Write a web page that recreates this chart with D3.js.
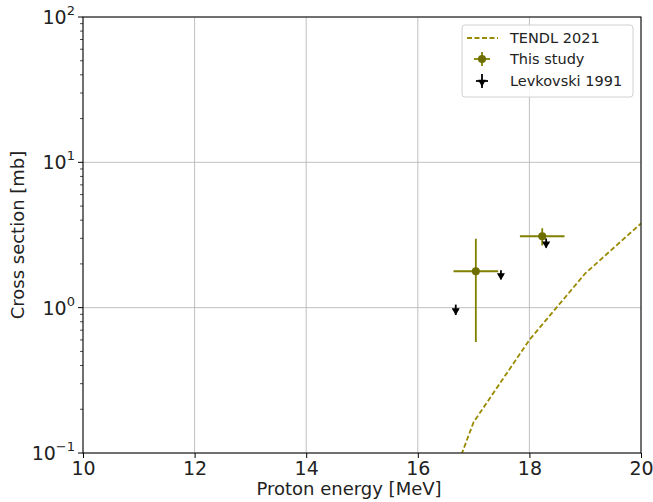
<!DOCTYPE html>
<html><head><meta charset="utf-8">
<script src="https://cdn.jsdelivr.net/npm/d3@7"></script>
<style>body{margin:0;background:#fff;}svg{font-family:"DejaVu Sans",sans-serif;}</style>
</head><body>
<svg id="c" width="653" height="502"></svg>
<script>
const tendlE = [16.5, 17.0, 18.0, 19.0, 20.0];
const tendlXS = [0.05, 0.163, 0.6, 1.72, 3.8];
const studyE = [17.04, 18.23];
const studyXS = [1.78, 3.1];
const studyEerr = [0.4, 0.4];
const studyXSerr = [1.2, 0.42];
const levE = [16.68, 17.49, 18.30];
const levXS = [0.97, 1.69, 2.79];
const levXSerr = [0.08, 0.12, 0.2];
const xTicks = [10, 12, 14, 16, 18, 20];
const yTicks = [0.1, 1, 10, 100];
const yTickExp = ["\u22121", "0", "1", "2"];
const legendLabels = ["TENDL 2021", "This study", "Levkovski 1991"];

const svg = d3.select("#c");
const L = 83, R = 641, T = 17, B = 453;
const x = d3.scaleLinear().domain([10, 20]).range([L, R]);
const y = d3.scaleLog().domain([0.1, 100]).range([B, T]);
const olive = "#808000";

// grid
svg.append("g").selectAll("line").data(xTicks).join("line")
  .attr("x1", d => x(d)).attr("x2", d => x(d)).attr("y1", T).attr("y2", B)
  .attr("stroke", "#b0b0b0").attr("stroke-width", 0.8);
svg.append("g").selectAll("line").data(yTicks).join("line")
  .attr("y1", d => y(d)).attr("y2", d => y(d)).attr("x1", L).attr("x2", R)
  .attr("stroke", "#b0b0b0").attr("stroke-width", 0.8);

svg.append("clipPath").attr("id", "clp").append("rect")
  .attr("x", L).attr("y", T).attr("width", R - L).attr("height", B - T);

// TENDL
svg.append("path").datum(tendlE.map((e, i) => [e, tendlXS[i]]))
  .attr("clip-path", "url(#clp)")
  .attr("d", d3.line().x(d => x(d[0])).y(d => y(d[1])))
  .attr("fill", "none").attr("stroke", "#9a8a00").attr("stroke-width", 1.8)
  .attr("stroke-dasharray", "5,2.5");

// This study
const sg = svg.append("g");
studyE.forEach((e, i) => {
  sg.append("line").attr("x1", x(e - studyEerr[i])).attr("x2", x(e + studyEerr[i]))
    .attr("y1", y(studyXS[i])).attr("y2", y(studyXS[i])).attr("stroke", olive).attr("stroke-width", 1.8);
  sg.append("line").attr("x1", x(e)).attr("x2", x(e))
    .attr("y1", y(studyXS[i] - studyXSerr[i])).attr("y2", y(studyXS[i] + studyXSerr[i]))
    .attr("stroke", olive).attr("stroke-width", 1.8);
  sg.append("circle").attr("cx", x(e)).attr("cy", y(studyXS[i])).attr("r", 4).attr("fill", "#6e6e00");
});

// Levkovski
const lg = svg.append("g");
const tri = d3.symbol().type(d3.symbolTriangle).size(28);
levE.forEach((e, i) => {
  lg.append("line").attr("x1", x(e)).attr("x2", x(e))
    .attr("y1", y(levXS[i] - levXSerr[i])).attr("y2", y(levXS[i] + levXSerr[i]))
    .attr("stroke", "#000").attr("stroke-width", 1.8);
  lg.append("line").attr("x1", x(e) - 3).attr("x2", x(e) + 3)
    .attr("y1", y(levXS[i])).attr("y2", y(levXS[i]))
    .attr("stroke", "#000").attr("stroke-width", 1.5);
  lg.append("path").attr("d", tri).attr("transform", `translate(${x(e)},${y(levXS[i]) + 1}) rotate(180)`)
    .attr("fill", "#000");
});

// axes
const xAxis = d3.axisBottom(x).tickValues(xTicks).tickSize(5).tickPadding(4).tickFormat(d3.format("d"));
const gx = svg.append("g").attr("transform", `translate(0,${B})`).call(xAxis);
gx.select(".domain").remove();
gx.selectAll("text").attr("font-size", 19).attr("fill", "#222").attr("font-family", "DejaVu Sans");
gx.selectAll("line").attr("stroke", "#000");

const minorY = [];
[0.1, 1, 10].forEach(b => { for (let k = 2; k <= 9; k++) minorY.push(b * k); });
svg.append("g").selectAll("line").data(minorY).join("line")
  .attr("x1", L - 3).attr("x2", L).attr("y1", d => y(d)).attr("y2", d => y(d))
  .attr("stroke", "#000").attr("stroke-width", 0.7);
const gy = svg.append("g");
yTicks.forEach((t, i) => {
  gy.append("line").attr("x1", L - 5).attr("x2", L).attr("y1", y(t)).attr("y2", y(t)).attr("stroke", "#000");
  const tx = gy.append("text").attr("x", L - 8).attr("y", y(t) + 7).attr("text-anchor", "end")
    .attr("font-size", 19).attr("fill", "#222");
  tx.append("tspan").text("10");
  tx.append("tspan").attr("font-size", 13).attr("dy", -9).text(yTickExp[i]);
});

svg.append("rect").attr("x", L).attr("y", T).attr("width", R - L).attr("height", B - T)
  .attr("fill", "none").attr("stroke", "#000").attr("stroke-width", 1);

svg.append("text").attr("x", (L + R) / 2 - 13).attr("y", 495).attr("text-anchor", "middle")
  .attr("font-size", 18).attr("fill", "#222").text("Proton energy [MeV]");
svg.append("text").attr("transform", `translate(24,${(T + B) / 2}) rotate(-90)`).attr("text-anchor", "middle")
  .attr("font-size", 18).attr("fill", "#222").text("Cross section [mb]");

// legend
const leg = svg.append("g");
leg.append("rect").attr("x", 462).attr("y", 25).attr("width", 171).attr("height", 72).attr("rx", 3)
  .attr("fill", "#fff").attr("fill-opacity", 0.85).attr("stroke", "#d0d0d0");
const rowsY = [38, 59, 81];
leg.append("line").attr("x1", 467).attr("x2", 498).attr("y1", rowsY[0]).attr("y2", rowsY[0])
  .attr("stroke", "#9a8a00").attr("stroke-width", 1.8).attr("stroke-dasharray", "5,2.5");
leg.append("line").attr("x1", 474).attr("x2", 490).attr("y1", rowsY[1]).attr("y2", rowsY[1]).attr("stroke", olive).attr("stroke-width", 1.8);
leg.append("line").attr("x1", 482).attr("x2", 482).attr("y1", rowsY[1] - 7).attr("y2", rowsY[1] + 7).attr("stroke", olive).attr("stroke-width", 1.8);
leg.append("circle").attr("cx", 482).attr("cy", rowsY[1]).attr("r", 4).attr("fill", "#6e6e00");
leg.append("line").attr("x1", 476).attr("x2", 488).attr("y1", rowsY[2]).attr("y2", rowsY[2]).attr("stroke", "#000").attr("stroke-width", 1.8);
leg.append("line").attr("x1", 482).attr("x2", 482).attr("y1", rowsY[2] - 7).attr("y2", rowsY[2] + 7).attr("stroke", "#000").attr("stroke-width", 1.8);
leg.append("path").attr("d", tri).attr("transform", `translate(482,${rowsY[2] + 1}) rotate(180)`).attr("fill", "#000");
legendLabels.forEach((t, i) => {
  leg.append("text").attr("x", 510).attr("y", rowsY[i] + 5).attr("font-size", 14.5).attr("fill", "#222").text(t);
});
</script>
</body></html>
